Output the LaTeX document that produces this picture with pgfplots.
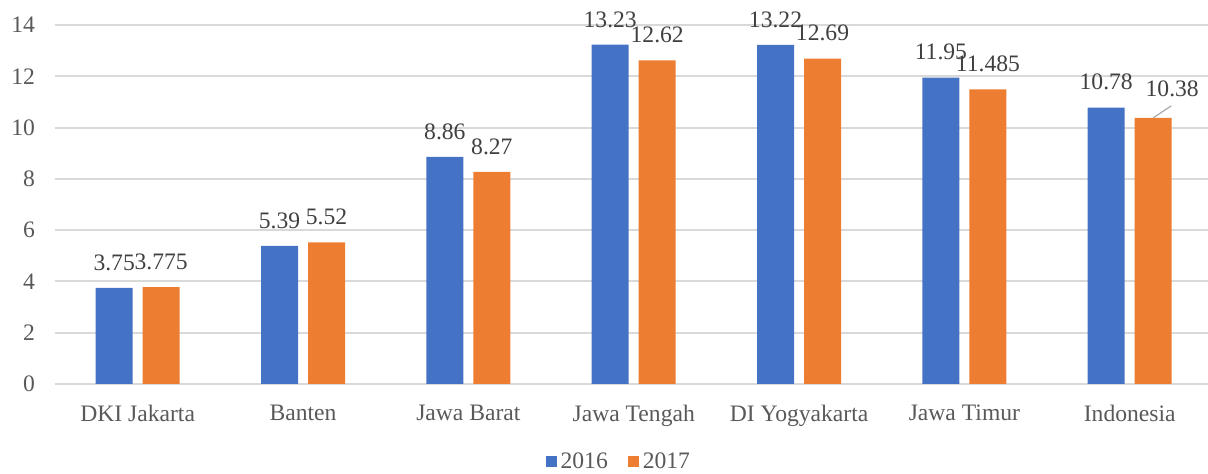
\documentclass[border=0pt]{standalone}
\usepackage{fontspec}
\setmainfont{Liberation Serif}
\usepackage{pgfplots}
\pgfplotsset{compat=1.18}
\definecolor{cblue}{HTML}{4472C4}
\definecolor{corange}{HTML}{ED7D31}
\definecolor{gridc}{HTML}{D9D9D9}
\definecolor{tickc}{HTML}{595959}
\definecolor{labc}{HTML}{404040}
\begin{document}
\begin{tikzpicture}
\begin{axis}[
  scale only axis,
  width=578.7pt, height=179.5pt,
  xmin=-0.5, xmax=6.5, ymin=0, ymax=14,
  ybar, bar width=18.5pt,
  xtick={0,1,2,3,4,5,6},
  xticklabels={DKI Jakarta, Banten, Jawa Barat, Jawa Tengah, DI Yogyakarta, Jawa Timur, Indonesia},
  ytick={0,2,...,14},
  major tick length=0pt,
  axis line style={draw=none},
  ymajorgrids, grid style={gridc, line width=1pt},
  tick label style={font=\fontsize{11.8}{13}\selectfont, text=tickc},
  yticklabel style={xshift=-6.5pt},
  xticklabel style={yshift=-7pt},
  /pgf/number format/assume math mode=true,
  nodes near coords={\pgfmathprintnumber[fixed,precision=3]{\pgfplotspointmeta}},
  every node near coord/.append style={font=\fontsize{11.8}{13}\selectfont, text=labc, anchor=south, inner sep=0pt, yshift=8.5pt},
  legend style={draw=none, fill=none, legend columns=-1, font=\fontsize{11.8}{13}\selectfont, text=tickc,
    at={(0.488,-0.217)}, anchor=center,
    /tikz/every even column/.append style={column sep=8pt}},
  legend image code/.code={\fill[#1] (0pt,-2.75pt) rectangle (5.5pt,2.75pt);},
]
\addplot[fill=cblue, draw=none, bar shift=-11.75pt] coordinates {
  (0,3.75) (1,5.39) (2,8.86) (3,13.23) (4,13.22) (5,11.95) (6,10.78)};
\addplot[fill=corange, draw=none, bar shift=11.75pt,
  coordinate style/.condition={x==6}{xshift=9.5pt, yshift=2pt}] coordinates {
  (0,3.775) (1,5.52) (2,8.27) (3,12.62) (4,12.69) (5,11.485) (6,10.38)};
\legend{2016,2017}
\draw[gray!70, line width=0.6pt] ([xshift=11.75pt]axis cs:6,10.38) -- ++(9pt,6pt);
\end{axis}
\pgfresetboundingbox
\path (-27.5pt,-45pt) rectangle (576.5pt,192pt);
\end{tikzpicture}
\end{document}
